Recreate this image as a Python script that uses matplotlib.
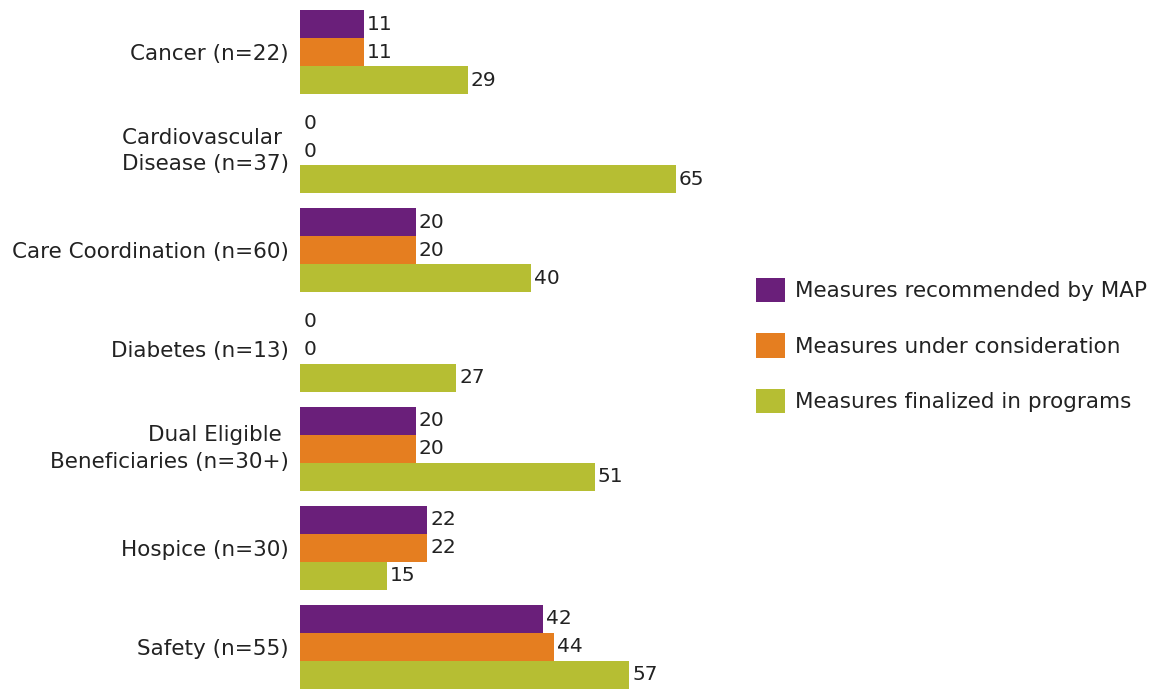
import numpy as np
import matplotlib.pyplot as plt

plt.rcParams['font.family'] = ['DejaVu Sans']

categories = ['Cancer (n=22)', 'Cardiovascular \nDisease (n=37)', 'Care Coordination (n=60)',
              'Diabetes (n=13)', 'Dual Eligible \nBeneficiaries (n=30+)', 'Hospice (n=30)',
              'Safety (n=55)']
recommended = [11, 0, 20, 0, 20, 22, 42]
under_consideration = [11, 0, 20, 0, 20, 22, 44]
finalized = [29, 65, 40, 27, 51, 15, 57]

series = [
    ('Measures recommended by MAP', recommended, '#6A1F7A'),
    ('Measures under consideration', under_consideration, '#E57E20'),
    ('Measures finalized in programs', finalized, '#B6BE33'),
]

W, H = 1161, 689
fig = plt.figure(figsize=(W / 100, H / 100), dpi=100)
ax_w = 420
ax = fig.add_axes([300 / W, 1 - 689 / H, ax_w / W, (689 - 10) / H])

bh = 28 / 99
y = np.arange(len(categories))
handles = []
for k, (name, vals, col) in enumerate(series):
    pos = y + (k - 1) * bh
    b = ax.barh(pos, vals, height=bh, color=col, label=name)
    handles.append(b)
    for p, v in zip(pos, vals):
        ax.text(v + 0.55, p, f'{v}', va='center', ha='left', fontsize=14.5, color='#222222')

ax.set_xlim(0, ax_w / 5.78)
ax.set_ylim(len(categories) - 1 + 1.5 * bh, -1.5 * bh)
ax.set_yticks(y)
ax.set_yticklabels(categories, fontsize=15.5, color='#222222', ha='right', linespacing=1.4)
for t in ax.get_yticklabels():
    t.set_multialignment('right')
    if '\n' in t.get_text():
        t.set_va('center')
ax.tick_params(axis='y', length=0, pad=8)
ax.set_xticks([])
for s in ax.spines.values():
    s.set_visible(False)

fig.legend(handles=handles, loc='upper left', bbox_to_anchor=(756 / W, 1 - 278 / H),
           frameon=False, fontsize=15.5, handlelength=1.35, handleheight=1.35,
           labelspacing=1.45, handletextpad=0.45, borderpad=0, borderaxespad=0,
           labelcolor='#222222')

fig.savefig('out.png', dpi=100)
